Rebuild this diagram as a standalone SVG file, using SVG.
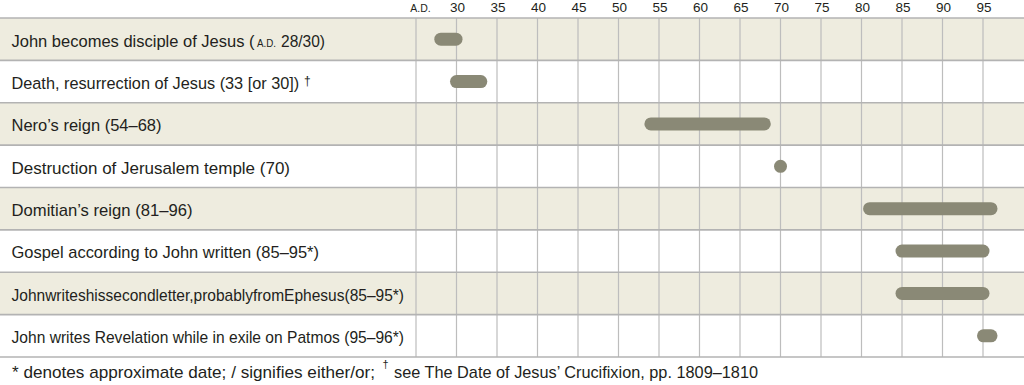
<svg xmlns="http://www.w3.org/2000/svg" width="1024" height="385" viewBox="0 0 1024 385">
<style>
.shade{fill:#eeecdf}
.hline{stroke:#b3b3b3;stroke-width:1.6}
.vline{stroke:#bdbdbd;stroke-width:1.2}
.bar{stroke:#8a8976;stroke-width:13;stroke-linecap:round;fill:none}
.dot{fill:#8a8976}
.lbl{font-family:"Liberation Sans",Arial,sans-serif;font-size:17px;fill:#231f20}
.yr{font-family:"Liberation Sans",Arial,sans-serif;font-size:13.5px;fill:#231f20;text-anchor:middle}
.ad{font-family:"Liberation Sans",Arial,sans-serif;font-size:10.5px;fill:#231f20;text-anchor:middle}
.sc{font-family:"Liberation Sans",Arial,sans-serif;font-size:11.5px;fill:#231f20}
.note{font-family:"Liberation Sans",Arial,sans-serif;font-size:17px;fill:#231f20}
</style>
<rect x="0" y="0" width="1024" height="385" fill="#ffffff"/>
<g id="header">
<text class="ad" x="420.5" y="12">A.D.</text>
<text class="yr" x="457.5" y="12">30</text>
<text class="yr" x="498" y="12">35</text>
<text class="yr" x="538.5" y="12">40</text>
<text class="yr" x="579" y="12">45</text>
<text class="yr" x="619.5" y="12">50</text>
<text class="yr" x="660" y="12">55</text>
<text class="yr" x="700.5" y="12">60</text>
<text class="yr" x="741" y="12">65</text>
<text class="yr" x="781.5" y="12">70</text>
<text class="yr" x="822" y="12">75</text>
<text class="yr" x="862.5" y="12">80</text>
<text class="yr" x="903" y="12">85</text>
<text class="yr" x="943.5" y="12">90</text>
<text class="yr" x="984" y="12">95</text>
</g>
<g id="row-backgrounds">
<rect class="shade" x="0" y="18" width="1024" height="42.375"/>
<rect class="shade" x="0" y="102.75" width="1024" height="42.375"/>
<rect class="shade" x="0" y="187.5" width="1024" height="42.375"/>
<rect class="shade" x="0" y="272.25" width="1024" height="42.375"/>
</g>
<g id="grid">
<line class="vline" x1="416" y1="18" x2="416" y2="357"/>
<line class="vline" x1="456.5" y1="18" x2="456.5" y2="357"/>
<line class="vline" x1="497" y1="18" x2="497" y2="357"/>
<line class="vline" x1="537.5" y1="18" x2="537.5" y2="357"/>
<line class="vline" x1="578" y1="18" x2="578" y2="357"/>
<line class="vline" x1="618.5" y1="18" x2="618.5" y2="357"/>
<line class="vline" x1="659" y1="18" x2="659" y2="357"/>
<line class="vline" x1="699.5" y1="18" x2="699.5" y2="357"/>
<line class="vline" x1="740" y1="18" x2="740" y2="357"/>
<line class="vline" x1="780.5" y1="18" x2="780.5" y2="357"/>
<line class="vline" x1="821" y1="18" x2="821" y2="357"/>
<line class="vline" x1="861.5" y1="18" x2="861.5" y2="357"/>
<line class="vline" x1="902" y1="18" x2="902" y2="357"/>
<line class="vline" x1="942.5" y1="18" x2="942.5" y2="357"/>
<line class="vline" x1="983" y1="18" x2="983" y2="357"/>
<line class="hline" x1="0" y1="18" x2="1024" y2="18"/>
<line class="hline" x1="0" y1="60.375" x2="1024" y2="60.375"/>
<line class="hline" x1="0" y1="102.75" x2="1024" y2="102.75"/>
<line class="hline" x1="0" y1="145.125" x2="1024" y2="145.125"/>
<line class="hline" x1="0" y1="187.5" x2="1024" y2="187.5"/>
<line class="hline" x1="0" y1="229.875" x2="1024" y2="229.875"/>
<line class="hline" x1="0" y1="272.25" x2="1024" y2="272.25"/>
<line class="hline" x1="0" y1="314.625" x2="1024" y2="314.625"/>
<line class="hline" x1="0" y1="357" x2="1024" y2="357"/>
</g>
<g id="row1">
<text class="lbl" x="11.5" y="46.5" style="font-size:16.5px">John becomes disciple of Jesus (</text>
<text class="sc" x="257" y="46.5" textLength="19" lengthAdjust="spacingAndGlyphs">A.D.</text>
<text class="lbl" x="281" y="46.5" textLength="44" lengthAdjust="spacingAndGlyphs">28/30)</text>
<line class="bar" x1="440.8" y1="39.2" x2="456" y2="39.2"/>
</g>
<g id="row2">
<text class="lbl" x="11.5" y="88.8" style="font-size:16.3px">Death, resurrection of Jesus (33 [or 30])</text>
<text class="sc" x="304" y="84.5" style="font-size:12px">†</text>
<line class="bar" x1="456.5" y1="81.6" x2="480.8" y2="81.6"/>
</g>
<g id="row3">
<text class="lbl" x="11.5" y="131.2" textLength="150" lengthAdjust="spacingAndGlyphs">Nero’s reign (54–68)</text>
<line class="bar" x1="650.9" y1="123.9" x2="764.3" y2="123.9"/>
</g>
<g id="row4">
<text class="lbl" x="11.5" y="173.5" textLength="278.5" lengthAdjust="spacingAndGlyphs">Destruction of Jerusalem temple (70)</text>
<circle class="dot" cx="780.5" cy="166.3" r="6.5"/>
</g>
<g id="row5">
<text class="lbl" x="11.5" y="215.9" textLength="181" lengthAdjust="spacingAndGlyphs">Domitian’s reign (81–96)</text>
<line class="bar" x1="869.6" y1="208.7" x2="991" y2="208.7"/>
</g>
<g id="row6">
<text class="lbl" x="11.5" y="258.3" textLength="307.5" lengthAdjust="spacingAndGlyphs">Gospel according to John written (85–95*)</text>
<line class="bar" x1="902" y1="251.1" x2="983" y2="251.1"/>
</g>
<g id="row7">
<text class="lbl" x="11.5" y="300.6" textLength="392.5" lengthAdjust="spacingAndGlyphs">Johnwriteshissecondletter,probablyfromEphesus(85–95*)</text>
<line class="bar" x1="902" y1="293.4" x2="983" y2="293.4"/>
</g>
<g id="row8">
<text class="lbl" x="11.5" y="343" textLength="392.5" lengthAdjust="spacingAndGlyphs">John writes Revelation while in exile on Patmos (95–96*)</text>
<line class="bar" x1="983.5" y1="335.8" x2="991" y2="335.8"/>
</g>
<g id="connectors"></g>
<g id="footnote">
<text class="note" x="12" y="378.3" textLength="363" lengthAdjust="spacingAndGlyphs">* denotes approximate date; / signifies either/or;</text>
<text class="note" x="382.5" y="368" style="font-size:11px">†</text>
<text class="note" x="394" y="378.3" textLength="364" lengthAdjust="spacingAndGlyphs">see The Date of Jesus’ Crucifixion, pp. 1809–1810</text>
</g>
</svg>
